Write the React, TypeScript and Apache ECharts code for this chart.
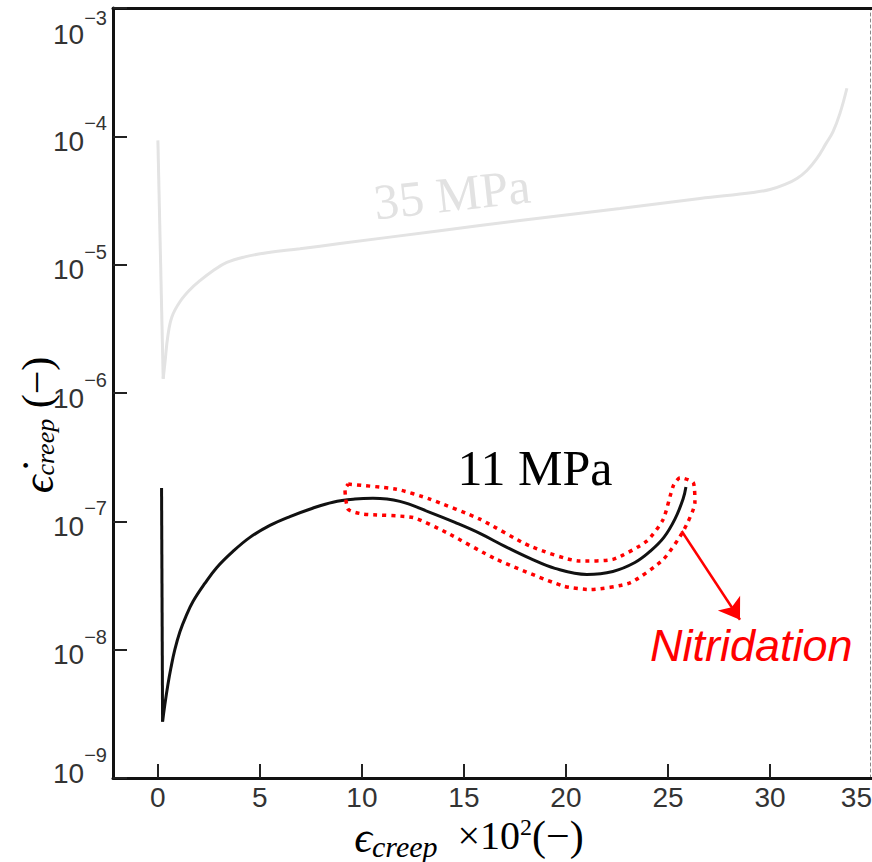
import { useEffect, useRef } from "react";
import * as echarts from "echarts";

// x-axis ticks and labels (strain x 10^2)
const xTickValues = [0, 5, 10, 15, 20, 25, 30];
const xLabelValues = [0, 5, 10, 15, 20, 25, 30, 35];

// 35 MPa curve (light grey)
const spike35X = [0.0, 0.26];
const spike35Y = [9.3e-5, 1.29e-6];
const curve35X = [0.26, 0.34, 0.49, 0.69, 1.08, 1.57, 2.06, 2.7, 3.38, 4.26, 5.34, 6.96, 8.92, 13.82, 17.75, 22.65, 26.57, 29.17, 30.0, 30.74, 31.32, 31.81, 32.3, 32.75, 33.09, 33.43, 33.77];
const curve35Y = [1.29e-6, 1.69e-6, 2.79e-6, 3.93e-6, 5.14e-6, 6.38e-6, 7.5e-6, 8.97e-6, 1.04e-5, 1.15e-5, 1.24e-5, 1.33e-5, 1.46e-5, 1.84e-5, 2.21e-5, 2.74e-5, 3.28e-5, 3.65e-5, 3.85e-5, 4.22e-5, 4.7e-5, 5.42e-5, 6.73e-5, 8.81e-5, 1.09e-4, 1.51e-4, 2.37e-4];

// 11 MPa curve (black)
const spike11X = [0.18, 0.23];
const spike11Y = [1.82e-7, 2.75e-9];
const curve11X = [0.23, 0.34, 0.49, 0.64, 0.83, 1.08, 1.37, 1.72, 2.3, 2.89, 3.68, 4.51, 5.49, 6.47, 7.55, 8.58, 9.66, 10.54, 11.86, 13.33, 14.56, 15.78, 17.01, 18.24, 19.46, 21.03, 22.3, 23.38, 24.12, 24.8, 25.34, 25.74, 25.88];
const curve11Y = [2.75e-9, 3.72e-9, 5.33e-9, 7.23e-9, 1.0e-8, 1.38e-8, 1.81e-8, 2.37e-8, 3.28e-8, 4.37e-8, 5.83e-8, 7.5e-8, 9.3e-8, 1.09e-7, 1.26e-7, 1.41e-7, 1.49e-7, 1.51e-7, 1.43e-7, 1.175e-7, 9.8e-8, 8.05e-8, 6.38e-8, 5.14e-8, 4.3e-8, 3.86e-8, 4.07e-8, 4.78e-8, 5.83e-8, 7.5e-8, 1.04e-7, 1.49e-7, 1.85e-7];

// Nitridation outline (red dotted)
const outlineX = [9.33, 11.7, 13.33, 15.78, 18.24, 20.69, 22.3, 23.96, 24.77, 25.26, 25.59, 26.24, 26.32, 25.75, 24.77, 23.14, 21.18, 19.87, 16.6, 14.15, 12.51, 10.06, 9.33, 9.17, 9.33];
const outlineY = [1.95e-7, 1.78e-7, 1.49e-7, 1.04e-7, 6.41e-8, 4.9e-8, 5.05e-8, 7.01e-8, 1.04e-7, 1.89e-7, 2.19e-7, 2.0e-7, 1.4e-7, 8.39e-8, 5.05e-8, 3.32e-8, 2.94e-8, 3.13e-8, 5.05e-8, 8.17e-8, 1.07e-7, 1.14e-7, 1.24e-7, 1.78e-7, 1.95e-7];

// Arrow pointing to the label
const arrowStart = [25.67, 8.4e-8];
const arrowEnd = [28.53, 1.71e-8];

const zip = (xs: number[], ys: number[]) => xs.map((x, i) => [x, ys[i]]);

const SANS = "'Liberation Sans', Arial, sans-serif";
const SERIF = "'Liberation Serif', 'DejaVu Serif', serif";

export default function App() {
  const ref = useRef<HTMLDivElement>(null);
  useEffect(() => {
    if (!ref.current) return;
    const chart = echarts.init(ref.current, null, { renderer: "svg" });
    const labelColor = "#333";
    const base = (size: number, lh: number, pad: number) => ({
      fontSize: size,
      lineHeight: lh,
      padding: [pad, 0, 0, 0],
      verticalAlign: "top",
      fontFamily: SANS,
      color: labelColor,
    });
    const yRich = {
      z: { fontSize: 1, lineHeight: 80, verticalAlign: "top", color: "transparent" },
      b: base(28, 28, 31),
      s: base(20, 20, 17),
      bt: base(28, 28, 52),
      st: base(20, 20, 40),
      bb: base(28, 28, 21),
      sb: base(20, 20, 7),
    };
    const option: any = {
      animation: false,
      backgroundColor: "#fff",
      grid: { left: 113, right: 0, top: 8, bottom: 84, outerBoundsMode: "none", containLabel: false },
      xAxis: [
        {
          type: "value",
          min: -2.2,
          max: 35,
          axisLine: { show: true, onZero: false, lineStyle: { color: "#111", width: 3 } },
          axisTick: { show: true, inside: true, length: 14, customValues: xTickValues, lineStyle: { color: "#222", width: 2 } },
          axisLabel: { show: true, customValues: xLabelValues, fontSize: 28, fontFamily: SANS, color: labelColor, margin: 5, alignMaxLabel: "right" },
          splitLine: { show: false },
        },
        {
          type: "value",
          position: "top",
          min: -2.2,
          max: 35,
          axisLine: { show: true, onZero: false, lineStyle: { color: "#111", width: 3 } },
          axisTick: { show: false },
          axisLabel: { show: false },
          splitLine: { show: false },
        },
      ],
      yAxis: [
        {
          type: "log",
          logBase: 10,
          min: 1e-9,
          max: 1e-3,
          axisLine: { show: true, onZero: false, lineStyle: { color: "#111", width: 3 } },
          axisTick: { show: true, inside: true, length: 14, lineStyle: { color: "#222", width: 2 } },
          axisLabel: {
            show: true,
            margin: 6,
            formatter: (v: number) => {
              const e = Math.round(Math.log10(v));
              if (e === -3) return `{z| }{bt|10}{st|−${-e}}`;
              if (e === -9) return `{z| }{bb|10}{sb|−${-e}}`;
              return `{z| }{b|10}{s|−${-e}}`;
            },
            rich: yRich,
          },
          splitLine: { show: false },
          minorTick: { show: false },
        },
        {
          type: "log",
          logBase: 10,
          min: 1e-9,
          max: 1e-3,
          position: "right",
          offset: -2,
          axisLine: { show: true, onZero: false, lineStyle: { color: "#888", width: 1, type: [3, 3] } },
          axisTick: { show: false },
          axisLabel: { show: false },
          splitLine: { show: false },
        },
      ],
      series: [
        {
          name: "35 MPa spike",
          type: "line",
          data: zip(spike35X, spike35Y),
          showSymbol: false,
          lineStyle: { color: "#e3e3e3", width: 3 },
        },
        {
          name: "35 MPa",
          type: "line",
          data: zip(curve35X, curve35Y),
          showSymbol: false,
          smooth: 0.4,
          lineStyle: { color: "#e3e3e3", width: 3 },
        },
        {
          name: "11 MPa spike",
          type: "line",
          data: zip(spike11X, spike11Y),
          showSymbol: false,
          lineStyle: { color: "#111", width: 3 },
        },
        {
          name: "11 MPa",
          type: "line",
          data: zip(curve11X, curve11Y),
          showSymbol: false,
          smooth: 0.4,
          lineStyle: { color: "#111", width: 3 },
        },
        {
          name: "Nitridation zone",
          type: "line",
          data: zip(outlineX, outlineY),
          showSymbol: false,
          smooth: 0.2,
          lineStyle: { color: "#ff0000", width: 3.5, type: [4, 5] },
        },
        {
          name: "arrow",
          type: "lines",
          coordinateSystem: "cartesian2d",
          data: [{ coords: [arrowStart, arrowEnd] }],
          symbol: ["none", "arrow"],
          symbolSize: 20,
          lineStyle: { color: "#ff0000", width: 2.5, opacity: 1 },
        },
      ],
      graphic: [
        {
          type: "text",
          x: 452,
          y: 194,
          rotation: 0.11,
          style: { text: "35 MPa", font: `50px ${SERIF}`, fill: "#e2e2e2", align: "center", verticalAlign: "middle" },
        },
        {
          type: "text",
          x: 535,
          y: 468,
          style: { text: "11 MPa", font: `50px ${SERIF}`, fill: "#000", align: "center", verticalAlign: "middle" },
        },
        {
          type: "text",
          x: 650,
          y: 645,
          style: { text: "Nitridation", font: `italic 45px ${SANS}`, fill: "#ff0000", align: "left", verticalAlign: "middle" },
        },
        {
          type: "text",
          x: 469,
          y: 836,
          style: {
            text: "{e|ϵ}{c|creep}{t|  ×10}{u|2}{p|(−)}",
            align: "center",
            verticalAlign: "middle",
            rich: {
              e: { fontSize: 44, lineHeight: 42, verticalAlign: "top", fontFamily: SERIF, fontStyle: "italic", fill: "#000" },
              c: { fontSize: 30, lineHeight: 30, padding: [16, 0, 0, 0], verticalAlign: "top", fontFamily: SERIF, fontStyle: "italic", fill: "#000" },
              t: { fontSize: 40, lineHeight: 42, verticalAlign: "top", fontFamily: SERIF, fill: "#000" },
              u: { fontSize: 24, lineHeight: 24, verticalAlign: "top", fontFamily: SERIF, fill: "#000" },
              p: { fontSize: 42, lineHeight: 42, verticalAlign: "top", fontFamily: SERIF, fill: "#000" },
            },
          },
        },
        {
          type: "text",
          x: 37,
          y: 425,
          rotation: Math.PI / 2,
          style: {
            text: "{e|ϵ̇}{c|creep}{p| (−)}",
            align: "center",
            verticalAlign: "middle",
            rich: {
              e: { fontSize: 44, lineHeight: 42, verticalAlign: "top", fontFamily: SERIF, fontStyle: "italic", fill: "#000" },
              c: { fontSize: 26, lineHeight: 26, padding: [16, 0, 0, 0], verticalAlign: "top", fontFamily: SERIF, fontStyle: "italic", fill: "#000" },
              p: { fontSize: 42, lineHeight: 42, verticalAlign: "top", fontFamily: SERIF, fill: "#000" },
            },
          },
        },
      ],
    };
    chart.setOption(option);
    return () => chart.dispose();
  }, []);
  return <div ref={ref} style={{ position: "absolute", left: 0, top: 0, width: 872, height: 862 }} />;
}
